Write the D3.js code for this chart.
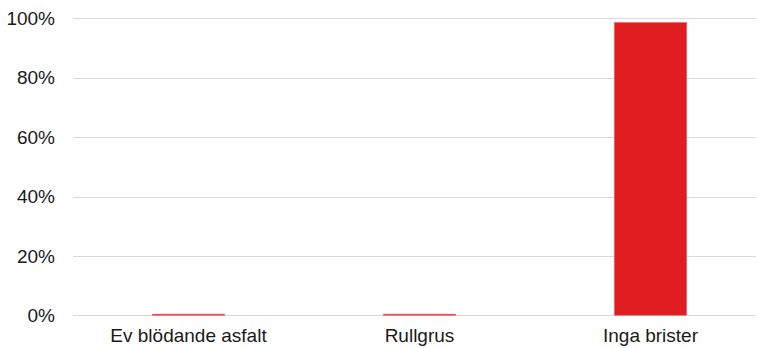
<!DOCTYPE html>
<html><head><meta charset="utf-8">
<script src="https://cdn.jsdelivr.net/npm/d3@7"></script>
<style>body{margin:0;background:#fff}svg{display:block}</style>
</head><body>
<script>
const categories = ["Ev blödande asfalt", "Rullgrus", "Inga brister"];
const values = [0.4, 0.4, 98.6];
const yTicks = [0, 20, 40, 60, 80, 100];

const W = 758, H = 348;
const svg = d3.select("body").append("svg").attr("width", W).attr("height", H);
const x = d3.scaleBand().domain(categories).range([73, 766]).paddingInner(0).paddingOuter(0);
const y = d3.scaleLinear().domain([0, 100]).range([315.3, 18.3]);
const barW = 72.5;

svg.append("g").selectAll("line").data(yTicks).join("line")
  .attr("x1", 73).attr("x2", 756)
  .attr("y1", d => Math.round(y(d)) + 0.5).attr("y2", d => Math.round(y(d)) + 0.5)
  .attr("stroke", "#d9d9d9").attr("stroke-width", 1);

svg.append("g").selectAll("text").data(yTicks).join("text")
  .attr("x", 55).attr("y", d => y(d)).attr("dy", "0.35em")
  .attr("text-anchor", "end")
  .attr("font-family", "Liberation Sans, Arial, sans-serif").attr("font-size", 19)
  .attr("fill", "#1a1a1a").text(d => d + "%");

svg.append("g").selectAll("rect").data(values).join("rect")
  .attr("x", (d, i) => x(categories[i]) + x.bandwidth() / 2 - barW / 2)
  .attr("width", barW)
  .attr("y", d => y(d))
  .attr("height", d => y(0) - y(d))
  .attr("fill", "#e01e22")
  .attr("stroke", "#f0707a").attr("stroke-width", 0.6);

svg.append("g").selectAll("text").data(categories).join("text")
  .attr("x", d => x(d) + x.bandwidth() / 2).attr("y", 342)
  .attr("text-anchor", "middle")
  .attr("font-family", "Liberation Sans, Arial, sans-serif").attr("font-size", 19)
  .attr("fill", "#1a1a1a").text(d => d);
</script>
</body></html>
